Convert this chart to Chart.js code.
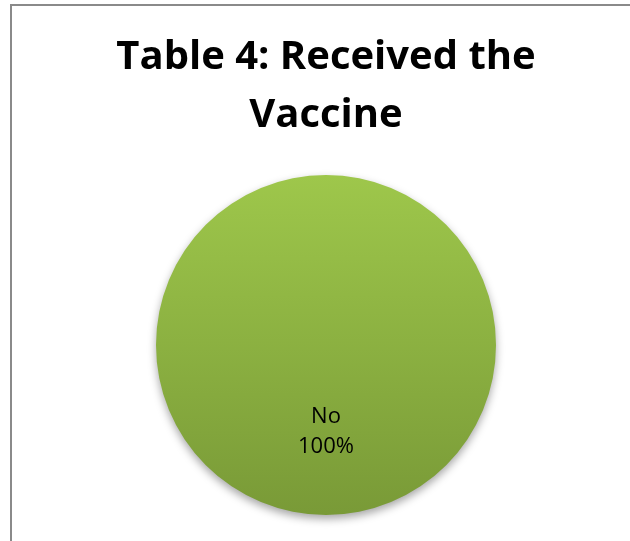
<!DOCTYPE html>
<html>
<head>
<meta charset="utf-8">
<script src="https://cdn.jsdelivr.net/npm/chart.js@4"></script>
<style>
  html, body { margin: 0; padding: 0; background: #fff; }
  #wrap { position: relative; width: 630px; height: 541px; }
  #frame {
    position: absolute; left: 10px; top: 4px; right: 0; bottom: 0;
    border-top: 2px solid #8a8a8a; border-left: 2px solid #8a8a8a;
    pointer-events: none;
  }
  canvas { position: absolute; left: 0; top: 0; }
</style>
</head>
<body>
<div id="wrap">
  <canvas id="vaccineChart" width="630" height="541"></canvas>
  <div id="frame"></div>
</div>
<script>
const titleLines = ["Table 4: Received the", "Vaccine"];
const categories = ["No"];
const counts = [100];

const total = counts.reduce((a, b) => a + b, 0);

// green fill, lighter at the top like the office chart
function sliceGradient(context) {
    const area = context.chart.chartArea;
    if (!area) return "#8db443";
    const g = context.chart.ctx.createLinearGradient(0, area.top, 0, area.bottom);
    g.addColorStop(0, "#9ec74b");
    g.addColorStop(1, "#799a37");
    return g;
}

const shadowPlugin = {
    id: "pieShadow",
    beforeDatasetsDraw(chart) {
        const ctx = chart.ctx;
        ctx.save();
        ctx.shadowColor = "rgba(0,0,0,0.35)";
        ctx.shadowBlur = 8;
        ctx.shadowOffsetY = 4;
    },
    afterDatasetsDraw(chart) {
        chart.ctx.restore();
    },
};

const sliceLabels = {
    id: "sliceLabels",
    afterDraw(chart) {
        const ctx = chart.ctx;
        const meta = chart.getDatasetMeta(0);
        ctx.save();
        ctx.fillStyle = "#000";
        ctx.font = "22px 'Open Sans', sans-serif";
        ctx.textAlign = "center";
        ctx.textBaseline = "middle";
        meta.data.forEach((arc, i) => {
            const pos = arc.tooltipPosition();
            const pct = Math.round((counts[i] / total) * 100) + "%";
            ctx.fillText(categories[i], pos.x, pos.y - 13);
            ctx.fillText(pct, pos.x, pos.y + 17);
        });
        ctx.restore();
    },
};

new Chart(document.getElementById("vaccineChart"), {
    type: "pie",
    data: {
        labels: categories,
        datasets: [
            {
                data: counts,
                backgroundColor: sliceGradient,
                borderWidth: 0,
            },
        ],
    },
    options: {
        responsive: false,
        animation: false,
        layout: {
            padding: { left: 22, right: 0, top: 0, bottom: 26 },
        },
        plugins: {
            legend: { display: false },
            tooltip: { enabled: false },
            title: {
                display: true,
                text: titleLines,
                color: "#000",
                font: { family: "'Open Sans', sans-serif", size: 40, weight: "bold", lineHeight: 1.45 },
                padding: { top: 29, bottom: 30 },
            },
        },
    },
    plugins: [shadowPlugin, sliceLabels],
});
</script>
</body>
</html>
